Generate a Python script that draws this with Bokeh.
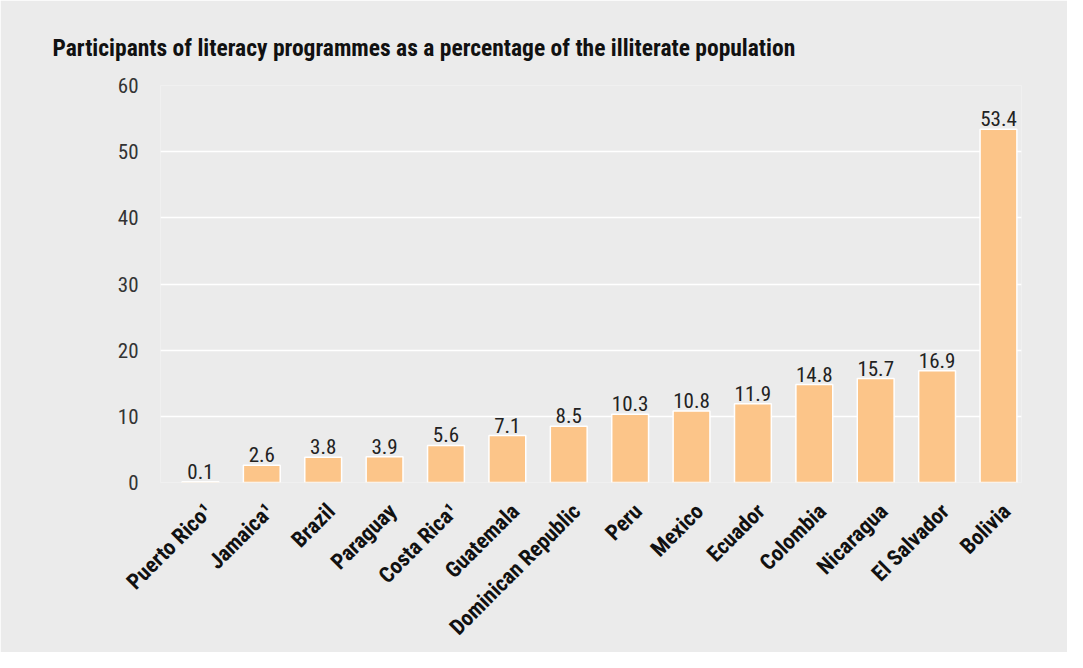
import math
from bokeh.plotting import figure
from bokeh.models import ColumnDataSource, LabelSet, FixedTicker, Range1d
from bokeh.core.properties import value
from bokeh.embed import file_html
from bokeh.resources import INLINE

countries = ["Puerto Rico\u00b9", "Jamaica\u00b9", "Brazil", "Paraguay", "Costa Rica\u00b9",
             "Guatemala", "Dominican Republic", "Peru", "Mexico", "Ecuador",
             "Colombia", "Nicaragua", "El Salvador", "Bolivia"]
values = [0.1, 2.6, 3.8, 3.9, 5.6, 7.1, 8.5, 10.3, 10.8, 11.9, 14.8, 15.7, 16.9, 53.4]
value_labels = ["0.1", "2.6", "3.8", "3.9", "5.6", "7.1", "8.5", "10.3", "10.8", "11.9",
                "14.8", "15.7", "16.9", "53.4"]
y_ticks = [0, 10, 20, 30, 40, 50, 60]
title_text = "Participants of literacy programmes as a percentage of the illiterate population"

FONT = "'Liberation Sans Narrow', 'Roboto Condensed', 'Arial Narrow', Roboto, sans-serif"
BG = "#ebebeb"

idx = list(range(len(countries)))
src = ColumnDataSource(dict(x=idx, top=values, lab=value_labels))

p = figure(width=1067, height=652, output_backend="svg", toolbar_location=None,
           x_range=Range1d(-0.65, len(countries) - 1 + 0.375), y_range=Range1d(0, 60),
           min_border_left=160, min_border_right=46, min_border_top=85, min_border_bottom=170,
           title=title_text)
p.background_fill_color = BG
p.border_fill_color = BG
p.outline_line_color = None

p.title.text_font = FONT
p.title.text_font_style = "bold"
p.title.text_font_size = "23.5px"
p.title.text_color = "#111111"
p.title.align = "left"
p.title.offset = -108
p.title.standoff = 48

p.vbar(x="x", top="top", width=0.6, bottom=0, source=src,
       fill_color="#fcc589", line_color="white", line_width=1.5)

labels = LabelSet(x="x", y="top", text="lab", source=src, text_align="center",
                  text_baseline="bottom", y_offset=3, text_font=value(FONT),
                  text_font_size=value("21px"), text_color="#222222")
p.add_layout(labels)

p.xgrid.grid_line_color = None
p.ygrid.grid_line_color = "white"
p.ygrid.grid_line_width = 1.5
p.ygrid.ticker = FixedTicker(ticks=y_ticks)

p.yaxis.ticker = FixedTicker(ticks=y_ticks)
p.yaxis.axis_line_color = None
p.yaxis.major_tick_line_color = None
p.yaxis.minor_tick_line_color = None
p.yaxis.major_label_text_font = FONT
p.yaxis.major_label_text_font_size = "21px"
p.yaxis.major_label_text_color = "#333333"
p.yaxis.major_label_standoff = 16

# category labels anchored slightly right of bar centres, as in the original
label_shift = 0.13
label_ticks = [i + label_shift for i in idx]
p.xaxis.ticker = FixedTicker(ticks=label_ticks)
p.xaxis.major_label_overrides = {t: c for t, c in zip(label_ticks, countries)}
p.xaxis.axis_line_color = None
p.xaxis.major_tick_line_color = None
p.xaxis.minor_tick_line_color = None
p.xaxis.major_label_orientation = math.pi / 4
p.xaxis.major_label_text_font = FONT
p.xaxis.major_label_text_font_style = "bold"
p.xaxis.major_label_text_font_size = "22px"
p.xaxis.major_label_text_color = "#111111"
p.xaxis.major_label_standoff = 19

open("out.html", "w").write(file_html(p, INLINE))
